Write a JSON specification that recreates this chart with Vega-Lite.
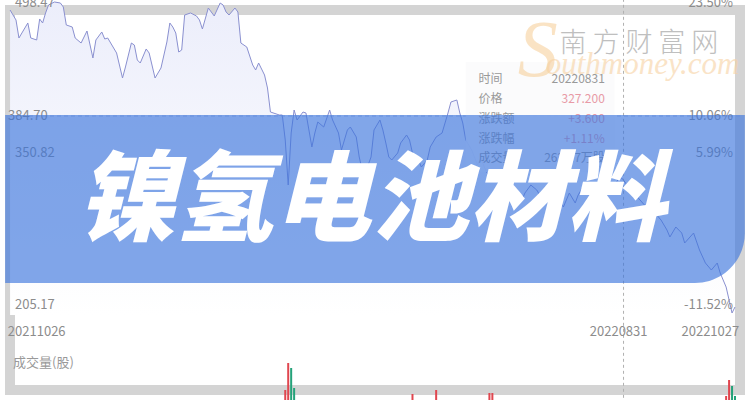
{
  "$schema": "https://vega.github.io/schema/vega-lite/v6.json",
  "width": 730,
  "height": 380,
  "autosize": "none",
  "padding": {"left": 10, "top": 10, "right": 10, "bottom": 10},
  "background": "white",
  "config": {
    "font": "Noto Sans CJK SC",
    "view": {"stroke": "#d4d4d4", "strokeWidth": 10, "fill": "white"}
  },
  "data": {"values": [{}]},
  "datasets": {
    "price": [
      {"d":0,"p":481.76},{"d":2,"p":472.61},{"d":3,"p":456.12},{"d":4,"p":460.70},{"d":6,"p":469.86},{"d":7,"p":456.12},{"d":9,"p":454.29},{"d":10,"p":473.52},{"d":11,"p":469.86},{"d":12,"p":479.02},{"d":13,"p":486.34},{"d":15,"p":489.09},{"d":17,"p":488.17},{"d":18,"p":484.51},{"d":19,"p":468.03},{"d":21,"p":466.20},{"d":22,"p":456.12},{"d":24,"p":451.54},{"d":26,"p":462.53},{"d":28,"p":437.81},{"d":29,"p":454.29},{"d":31,"p":461.62},{"d":32,"p":455.21},{"d":33,"p":456.12},{"d":36,"p":442.39},{"d":38,"p":419.50},{"d":39,"p":429.57},{"d":41,"p":451.54},{"d":42,"p":449.71},{"d":43,"p":435.98},{"d":44,"p":433.23},{"d":46,"p":446.05},{"d":47,"p":442.39},{"d":49,"p":419.50},{"d":51,"p":428.65},{"d":53,"p":452.46},{"d":54,"p":469.86},{"d":55,"p":466.20},{"d":56,"p":460.70},{"d":57,"p":443.30},{"d":58,"p":445.13},{"d":59,"p":477.18},{"d":61,"p":479.02},{"d":63,"p":476.27},{"d":64,"p":472.61},{"d":65,"p":464.37},{"d":67,"p":483.59},{"d":68,"p":479.93},{"d":69,"p":476.27},{"d":71,"p":488.17},{"d":72,"p":486.34},{"d":73,"p":479.93},{"d":74,"p":477.18},{"d":76,"p":483.59},{"d":77,"p":479.93},{"d":78,"p":451.54},{"d":80,"p":447.88},{"d":82,"p":431.40},{"d":83,"p":426.82},{"d":84,"p":433.23},{"d":86,"p":422.24},{"d":87,"p":410.34},{"d":88,"p":388.36},{"d":91,"p":385.62},{"d":92,"p":385.62},{"d":93,"p":362.72},{"d":94,"p":321.51},{"d":95,"p":369.13},{"d":96,"p":390.19},{"d":97,"p":381.04},{"d":99,"p":388.36},{"d":100,"p":387.45},{"d":102,"p":356.33},{"d":103,"p":369.13},{"d":104,"p":379.21},{"d":106,"p":374.63},{"d":108,"p":390.19},{"d":109,"p":381.04},{"d":111,"p":369.13},{"d":112,"p":353.57},{"d":114,"p":371.88},{"d":115,"p":374.63},{"d":117,"p":365.47},{"d":118,"p":347.16},{"d":119,"p":335.25},{"d":121,"p":339.83},{"d":122,"p":347.16},{"d":123,"p":371.88},{"d":125,"p":381.04},{"d":126,"p":371.88},{"d":127,"p":359.97},{"d":128,"p":347.16},{"d":129,"p":344.41},{"d":131,"p":350.82},{"d":132,"p":359.97},{"d":134,"p":367.30},{"d":135,"p":362.72},{"d":136,"p":350.82},{"d":138,"p":344.41},{"d":139,"p":338.00},{"d":141,"p":344.41},{"d":142,"p":356.33},{"d":144,"p":365.47},{"d":146,"p":369.13},{"d":147,"p":378.29},{"d":148,"p":387.45},{"d":149,"p":397.52},{"d":151,"p":399.35},{"d":152,"p":387.45},{"d":153,"p":378.29},{"d":154,"p":362.72},{"d":156,"p":353.57},{"d":158,"p":339.83},{"d":159,"p":346.24},{"d":161,"p":333.42},{"d":163,"p":326.09},{"d":164,"p":335.25},{"d":166,"p":321.51},{"d":168,"p":327.92},{"d":169,"p":315.10},{"d":171,"p":318.77},{"d":173,"p":307.78},{"d":174,"p":314.19},{"d":176,"p":321.51},{"d":178,"p":316.94},{"d":179,"p":312.36},{"d":181,"p":318.77},{"d":183,"p":309.61},{"d":184,"p":316.94},{"d":187,"p":301.37},{"d":189,"p":314.19},{"d":191,"p":305.05},{"d":192,"p":312.36},{"d":194,"p":321.51},{"d":196,"p":315.10},{"d":197,"p":307.78},{"d":199,"p":316.94},{"d":201,"p":321.51},{"d":202,"p":312.36},{"d":204,"p":319.68},{"d":206,"p":328.84},{"d":207,"p":327.20},{"d":209,"p":319.68},{"d":212,"p":310.53},{"d":215,"p":301.37},{"d":218,"p":295.88},{"d":220,"p":289.47},{"d":222,"p":280.31},{"d":223,"p":273.91},{"d":225,"p":283.06},{"d":227,"p":277.56},{"d":228,"p":268.41},{"d":231,"p":277.56},{"d":233,"p":261.99},{"d":235,"p":250.09},{"d":237,"p":243.68},{"d":239,"p":250.09},{"d":240,"p":240.93},{"d":242,"p":228.10},{"d":243,"p":216.21},{"d":244,"p":204.30},{"d":245,"p":209.80}
    ],
    "vol": [
      {"d":93,"v":60000,"dir":"up"},{"d":94,"v":195000,"dir":"up"},{"d":95,"v":170000,"dir":"down"},{"d":96,"v":70000,"dir":"down"},{"d":136,"v":40000,"dir":"up"},{"d":144,"v":60000,"dir":"up"},{"d":162,"v":45000,"dir":"up"},{"d":163,"v":45000,"dir":"up"},{"d":242,"v":30000,"dir":"up"},{"d":243,"v":110000,"dir":"up"},{"d":244,"v":80000,"dir":"down"},{"d":245,"v":30000,"dir":"down"}
    ],
    "leftLabels": [
      {"d":1.67,"p":488.17,"t":"498.47"},{"d":-0.67,"p":384.70,"t":"384.70"},{"d":1.67,"p":350.82,"t":"350.82"},{"d":1.67,"p":211.63,"t":"205.17"}
    ],
    "rightLabels": [
      {"p":488.17,"t":"23.50%"},{"p":384.70,"t":"10.06%"},{"p":350.82,"t":"5.99%"},{"p":211.63,"t":"-11.52%"}
    ],
    "dates": [
      {"d":9,"t":"20211026"},{"d":205.67,"t":"20220831"},{"d":236.67,"t":"20221027"}
    ],
    "tip": [
      {"k":"时间","v":"20220831","p":418.58,"s":"flat"},
      {"k":"价格","v":"327.200","p":400.27,"s":"up"},
      {"k":"涨跌额","v":"+3.600","p":381.95,"s":"up"},
      {"k":"涨跌幅","v":"+1.11%","p":363.64,"s":"up"},
      {"k":"成交量","v":"2620.7万股","p":346.24,"s":"flat"}
    ]
  },
  "resolve": {"scale": {"y": "independent", "color": "independent"}},
  "layer": [
    {
      "data": {"name": "price"},
      "mark": {"type": "area", "color": {"gradient": "linear", "x1": 0, "y1": 0, "x2": 0, "y2": 1, "stops": [{"offset": 0, "color": "#eceefb"}, {"offset": 1, "color": "#ffffff"}]}},
      "encoding": {
        "x": {"field": "d", "type": "quantitative", "scale": {"domain": [1.667, 245], "nice": false, "zero": false}, "axis": null},
        "y": {"field": "p", "type": "quantitative", "scale": {"domain": [133.8, 481.76], "nice": false, "zero": false}, "axis": null},
        "y2": {"datum": 202.47}
      }
    },
    {
      "data": {"name": "price"},
      "mark": {"type": "line", "color": "#8a90d0", "strokeWidth": 1},
      "encoding": {
        "x": {"field": "d", "type": "quantitative", "scale": {"domain": [1.667, 245], "nice": false, "zero": false}, "axis": null},
        "y": {"field": "p", "type": "quantitative", "scale": {"domain": [133.8, 481.76], "nice": false, "zero": false}, "axis": null}
      }
    },
    {
      "mark": {"type": "rule", "color": "#b8c0e0", "strokeDash": [4, 3], "strokeWidth": 1},
      "encoding": {
        "y": {"datum": 384.7, "type": "quantitative", "scale": {"domain": [133.8, 481.76], "nice": false, "zero": false}, "axis": null}
      }
    },
    {
      "mark": {"type": "rule", "color": "#b0b0b0", "strokeDash": [3, 3], "strokeWidth": 1},
      "encoding": {
        "x": {"datum": 207.33, "type": "quantitative", "scale": {"domain": [1.667, 245], "nice": false, "zero": false}, "axis": null},
        "y": {"datum": 492, "type": "quantitative", "scale": {"domain": [133.8, 481.76], "nice": false, "zero": false}, "axis": null},
        "y2": {"datum": 124}
      }
    },
    {
      "data": {"name": "vol"},
      "mark": {"type": "bar", "width": 2},
      "encoding": {
        "x": {"field": "d", "type": "quantitative", "scale": {"domain": [1.667, 245], "nice": false, "zero": false}, "axis": null},
        "y": {"field": "v", "type": "quantitative", "scale": {"domain": [60000, 1960000], "nice": false, "zero": false}, "axis": null},
        "y2": {"datum": 0},
        "color": {"field": "dir", "type": "nominal", "scale": {"domain": ["up", "down"], "range": ["#e0464f", "#25a27a"]}, "legend": null}
      }
    },
    {
      "mark": {"type": "rect", "fill": "#fbfbfc", "opacity": 0.9},
      "encoding": {
        "x": {"datum": 154, "type": "quantitative", "scale": {"domain": [1.667, 245], "nice": false, "zero": false}, "axis": null},
        "x2": {"datum": 204.33},
        "y": {"datum": 434.15, "type": "quantitative", "scale": {"domain": [133.8, 481.76], "nice": false, "zero": false}, "axis": null},
        "y2": {"datum": 333.42}
      }
    },
    {
      "data": {"name": "tip"},
      "mark": {"type": "text", "align": "left", "baseline": "middle", "fontSize": 12, "color": "#999999"},
      "encoding": {
        "x": {"datum": 158.33, "type": "quantitative", "scale": {"domain": [1.667, 245], "nice": false, "zero": false}, "axis": null},
        "y": {"field": "p", "type": "quantitative", "scale": {"domain": [133.8, 481.76], "nice": false, "zero": false}, "axis": null},
        "text": {"field": "k"}
      }
    },
    {
      "data": {"name": "tip"},
      "mark": {"type": "text", "align": "right", "baseline": "middle", "fontSize": 12},
      "encoding": {
        "x": {"datum": 201, "type": "quantitative", "scale": {"domain": [1.667, 245], "nice": false, "zero": false}, "axis": null},
        "y": {"field": "p", "type": "quantitative", "scale": {"domain": [133.8, 481.76], "nice": false, "zero": false}, "axis": null},
        "text": {"field": "v"},
        "color": {"condition": {"test": "datum.s === 'up'", "value": "#e89aa6"}, "value": "#999999"}
      }
    },
    {
      "mark": {"type": "text", "align": "center", "baseline": "middle", "fontSize": 80, "font": "Liberation Serif", "fontStyle": "italic", "color": "#f7c98a", "opacity": 0.5, "text": "S"},
      "encoding": {
        "x": {"datum": 178.33, "type": "quantitative", "scale": {"domain": [1.667, 245], "nice": false, "zero": false}, "axis": null},
        "y": {"datum": 443.3, "type": "quantitative", "scale": {"domain": [133.8, 481.76], "nice": false, "zero": false}, "axis": null}
      }
    },
    {
      "mark": {"type": "text", "align": "left", "baseline": "middle", "fontSize": 31, "font": "Liberation Serif", "fontStyle": "italic", "color": "#f7d2a2", "opacity": 0.6, "text": "outhmoney.com"},
      "encoding": {
        "x": {"datum": 181, "type": "quantitative", "scale": {"domain": [1.667, 245], "nice": false, "zero": false}, "axis": null},
        "y": {"datum": 431.4, "type": "quantitative", "scale": {"domain": [133.8, 481.76], "nice": false, "zero": false}, "axis": null}
      }
    },
    {
      "mark": {"type": "text", "align": "left", "baseline": "middle", "fontSize": 27, "fontWeight": 300, "color": "#b4b4b4", "opacity": 0.85, "text": "南 方 财 富 网"},
      "encoding": {
        "x": {"datum": 185.67, "type": "quantitative", "scale": {"domain": [1.667, 245], "nice": false, "zero": false}, "axis": null},
        "y": {"datum": 450.63, "type": "quantitative", "scale": {"domain": [133.8, 481.76], "nice": false, "zero": false}, "axis": null}
      }
    },
    {
      "data": {"name": "leftLabels"},
      "mark": {"type": "text", "align": "left", "baseline": "middle", "fontSize": 13, "color": "#8c8c8c"},
      "encoding": {
        "x": {"field": "d", "type": "quantitative", "scale": {"domain": [1.667, 245], "nice": false, "zero": false}, "axis": null},
        "y": {"field": "p", "type": "quantitative", "scale": {"domain": [133.8, 481.76], "nice": false, "zero": false}, "axis": null},
        "text": {"field": "t"}
      }
    },
    {
      "data": {"name": "rightLabels"},
      "mark": {"type": "text", "align": "right", "baseline": "middle", "fontSize": 13, "color": "#8c8c8c"},
      "encoding": {
        "x": {"datum": 244.33, "type": "quantitative", "scale": {"domain": [1.667, 245], "nice": false, "zero": false}, "axis": null},
        "y": {"field": "p", "type": "quantitative", "scale": {"domain": [133.8, 481.76], "nice": false, "zero": false}, "axis": null},
        "text": {"field": "t"}
      }
    },
    {
      "data": {"name": "dates"},
      "mark": {"type": "text", "align": "center", "baseline": "middle", "fontSize": 13, "color": "#8c8c8c"},
      "encoding": {
        "x": {"field": "d", "type": "quantitative", "scale": {"domain": [1.667, 245], "nice": false, "zero": false}, "axis": null},
        "y": {"datum": 186.91, "type": "quantitative", "scale": {"domain": [133.8, 481.76], "nice": false, "zero": false}, "axis": null},
        "text": {"field": "t"}
      }
    },
    {
      "mark": {"type": "text", "align": "left", "baseline": "middle", "fontSize": 13, "color": "#999999", "text": "成交量(股)"},
      "encoding": {
        "x": {"datum": 1, "type": "quantitative", "scale": {"domain": [1.667, 245], "nice": false, "zero": false}, "axis": null},
        "y": {"datum": 158.52, "type": "quantitative", "scale": {"domain": [133.8, 481.76], "nice": false, "zero": false}, "axis": null}
      }
    },
    {
      "mark": {"type": "rect", "fill": "#3a74dc", "opacity": 0.64, "cornerRadiusBottomRight": 50},
      "encoding": {
        "x": {"datum": -1.667, "type": "quantitative", "scale": {"domain": [1.667, 245], "nice": false, "zero": false}, "axis": null},
        "x2": {"datum": 248.33},
        "y": {"datum": 385.62, "type": "quantitative", "scale": {"domain": [133.8, 481.76], "nice": false, "zero": false}, "axis": null},
        "y2": {"datum": 231.77}
      }
    },
    {
      "mark": {"type": "text", "align": "center", "baseline": "middle", "fontSize": 98, "fontWeight": 900, "fontStyle": "italic", "color": "#ffffff", "text": "镍氢电池材料"},
      "encoding": {
        "x": {"datum": 122, "type": "quantitative", "scale": {"domain": [1.667, 245], "nice": false, "zero": false}, "axis": null},
        "y": {"datum": 304.5, "type": "quantitative", "scale": {"domain": [133.8, 481.76], "nice": false, "zero": false}, "axis": null}
      }
    }
  ]
}
